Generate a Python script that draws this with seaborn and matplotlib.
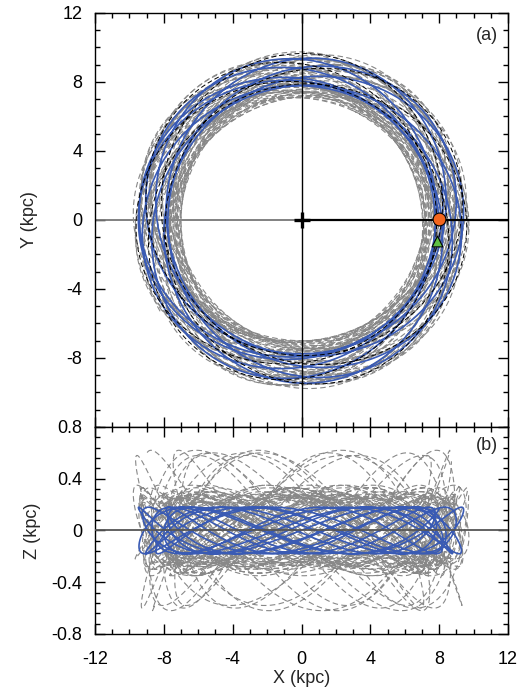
import numpy as np
import pandas as pd
import matplotlib
matplotlib.use("Agg")
import matplotlib.pyplot as plt
import seaborn as sns
from matplotlib.ticker import MultipleLocator

# Epicyclic orbit parameters: guiding radius and radial amplitude (kpc),
# vertical amplitude (kpc), radial / vertical frequencies in units of the
# circular frequency, starting phases and number of revolutions.
gray_rg     = [8.40, 8.30, 8.50, 8.20, 8.55, 8.05, 8.70, 8.35, 8.45, 8.25, 8.60]
gray_ramp   = [1.40, 1.10, 0.95, 1.20, 1.25, 0.90, 1.05, 1.30, 1.00, 1.15, 1.20]
gray_zamp   = [0.60, 0.28, 0.25, 0.30, 0.58, 0.27, 0.22, 0.33, 0.62, 0.26, 0.35]
gray_kappa  = [1.38, 1.42, 1.40, 1.41, 1.37, 1.43, 1.39, 1.40, 1.36, 1.42, 1.41]
gray_nu     = [2.25, 2.70, 2.75, 2.65, 2.30, 2.72, 2.80, 2.60, 2.20, 2.68, 2.62]
gray_rphase = [0.3, 1.7, 2.9, 4.1, 5.2, 0.9, 2.2, 3.6, 4.8, 1.2, 5.8]
gray_zphase = [1.1, 2.4, 0.2, 3.3, 4.6, 5.5, 1.9, 0.7, 2.8, 4.0, 3.0]
gray_turns  = [3, 7, 6, 7, 3, 6, 6, 7, 3, 6, 5]

blue_rg, blue_ramp, blue_zamp = 8.62, 0.86, 0.18
blue_kappa, blue_nu, blue_turns = 1.37, 2.70, 9
blue_r0 = 8.0

black_rg, black_ramp = 8.75, 0.90
black_kappa, black_turns = 1.39, 5

sun_xy = (8.0, 0.05)
star_xy = (7.85, -1.2)

x_ticks = [-12, -8, -4, 0, 4, 8, 12]
y_ticks_top = [-8, -4, 0, 4, 8, 12]
z_ticks = [-0.8, -0.4, 0, 0.4, 0.8]


def epicycle(rg, a, kappa, nu, zamp, rphase, zphase, turns, phi0=0.0):
    t = np.linspace(0, 2 * np.pi * turns, 700 * turns)
    r = rg + a * np.cos(kappa * t + rphase)
    phi = phi0 + t - 2 * a / (kappa * rg) * np.sin(kappa * t + rphase)
    z = zamp * np.cos(nu * t + zphase)
    return pd.DataFrame({"X": r * np.cos(phi), "Y": r * np.sin(phi), "Z": z})


gray_orbits = [
    epicycle(gray_rg[i], gray_ramp[i], gray_kappa[i], gray_nu[i], gray_zamp[i],
             gray_rphase[i], gray_zphase[i], gray_turns[i], phi0=0.37 * i)
    for i in range(len(gray_rg))
]
bp = np.arccos((blue_r0 - blue_rg) / blue_ramp)
blue_orbit = epicycle(blue_rg, blue_ramp, blue_kappa, blue_nu, blue_zamp, bp, 0.4,
                      blue_turns, phi0=2 * blue_ramp / (blue_kappa * blue_rg) * np.sin(bp))
black_orbit = epicycle(black_rg, black_ramp, black_kappa, 2.7, 0.15, 2.0, 0.0,
                       black_turns, phi0=1.0)

sns.set_theme(style="ticks")
plt.rcParams["font.family"] = ["Liberation Sans", "DejaVu Sans"]

fig = plt.figure(figsize=(5.24, 6.90), dpi=100)
ax1 = fig.add_axes([0.1813, 0.3812, 0.7882, 0.6000])
ax2 = fig.add_axes([0.1813, 0.0812, 0.7882, 0.3000])

gray = "#888888"
blue = "#3a5bb4"
dash = (0, (5, 3))

for df in gray_orbits:
    sns.lineplot(data=df, x="X", y="Y", sort=False, estimator=None, ax=ax1,
                 color=gray, lw=0.8, linestyle=dash)
    sns.lineplot(data=df, x="X", y="Z", sort=False, estimator=None, ax=ax2,
                 color=gray, lw=0.8, linestyle=dash)

sns.lineplot(data=blue_orbit, x="X", y="Y", sort=False, estimator=None, ax=ax1,
             color=blue, lw=1.2)
sns.lineplot(data=black_orbit, x="X", y="Y", sort=False, estimator=None, ax=ax1,
             color="black", lw=0.7, linestyle=dash)
sns.lineplot(data=blue_orbit, x="X", y="Z", sort=False, estimator=None, ax=ax2,
             color=blue, lw=1.2)

# reference lines through the Galactic centre
ax1.plot([-12, 0], [0, 0], color="#777777", lw=1.3, zorder=1)
ax1.plot([0, 12], [0, 0], color="black", lw=1.6, zorder=5)
ax1.plot([0, 0], [-12, 12], color="black", lw=1.0, zorder=5)
ax1.plot([0], [0], marker="+", ms=12, mew=2.4, color="black", zorder=6)
ax2.plot([-12, 12], [0, 0], color="#555555", lw=1.3, zorder=5)

sns.scatterplot(x=[sun_xy[0]], y=[sun_xy[1]], ax=ax1, s=85, color="#f4661e",
                edgecolor="black", linewidth=0.8, zorder=10)
sns.scatterplot(x=[star_xy[0]], y=[star_xy[1]], ax=ax1, s=60, marker="^",
                color="#5fbf45", edgecolor="black", linewidth=0.8, zorder=10)

for ax in (ax1, ax2):
    ax.set_xlim(-12, 12)
    ax.set_xticks(x_ticks)
    ax.xaxis.set_minor_locator(MultipleLocator(1))
    ax.tick_params(which="both", direction="in", top=True, right=True,
                   width=1.0, colors="black", labelsize=13)
    ax.tick_params(which="major", length=7)
    ax.tick_params(which="minor", length=3.5)
    ax.tick_params(axis="x", pad=12)
    ax.tick_params(axis="y", pad=9)
    for s in ax.spines.values():
        s.set_linewidth(1.0)
        s.set_color("black")

ax1.set_ylim(-12, 12)
ax1.set_yticks(y_ticks_top)
ax1.set_yticklabels([str(v) for v in y_ticks_top])
ax1.yaxis.set_minor_locator(MultipleLocator(1))
ax1.tick_params(axis="x", labelbottom=False)
ax1.set_xlabel("")
ax1.set_ylabel("Y (kpc)", fontsize=13, labelpad=18)
ax1.text(0.975, 0.965, "(a)", transform=ax1.transAxes, ha="right", va="top", fontsize=13)

ax2.set_ylim(-0.8, 0.8)
ax2.set_yticks(z_ticks)
ax2.set_yticklabels(["-0.8", "-0.4", "0", "0.4", "0.8"])
ax2.yaxis.set_minor_locator(MultipleLocator(0.08))
ax2.set_xticklabels([str(v) for v in x_ticks])
ax2.set_xlabel("X (kpc)", fontsize=13, labelpad=2)
ax2.set_ylabel("Z (kpc)", fontsize=13, labelpad=8)
ax2.text(0.975, 0.95, "(b)", transform=ax2.transAxes, ha="right", va="top", fontsize=13)

fig.savefig("out.png", dpi=100)
